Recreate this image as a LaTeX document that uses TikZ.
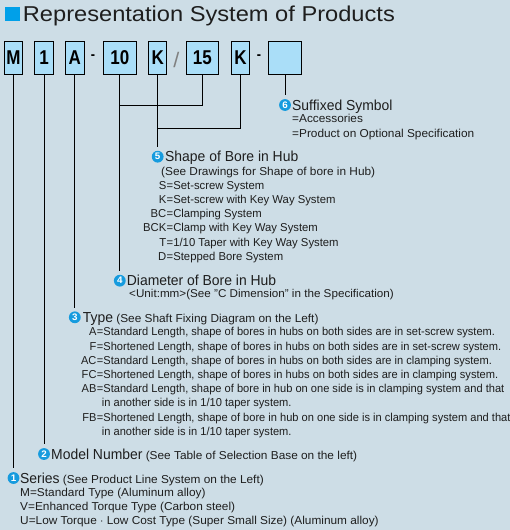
\documentclass[tikz,border=0pt]{standalone}
\usepackage{fontspec}
\setmainfont{Liberation Sans}[FakeStretch=1.03]
\newfontfamily\smfont{Liberation Sans}[FakeStretch=0.985]
\newfontfamily\tyfont{Liberation Sans}[FakeStretch=0.966]
\newfontfamily\hdfont{Liberation Sans}[FakeStretch=0.96]
\newfontfamily\titlefont{Liberation Sans}[FakeStretch=1.1]
\newfontfamily\boxfont{Liberation Sans}[FakeStretch=0.85]
\definecolor{bg}{RGB}{205,221,230}
\definecolor{boxblue}{RGB}{170,222,248}
\definecolor{bulblue}{RGB}{22,155,222}
\definecolor{sqblue}{RGB}{0,160,233}
\definecolor{txt}{RGB}{30,30,30}
\newcommand{\bodyfs}{\fontsize{11.5}{14.2}\selectfont}
\newcommand{\smfs}{\smfont\fontsize{11.47}{14.2}\selectfont}
\newcommand{\tyfs}{\tyfont\fontsize{11.47}{14.2}\selectfont}
\newcommand{\hdfs}{\hdfont\fontsize{14.5}{16}\selectfont}
\begin{document}
\begin{tikzpicture}[x=1pt,y=-1pt,
  codebox/.style={draw=black, line width=0.9pt, fill=boxblue, minimum height=32.3pt, inner sep=0pt,
    font=\boxfont\bfseries\fontsize{20}{20}\selectfont, text=black},
  sep/.style={inner sep=0pt, font=\boxfont\bfseries\fontsize{15}{15}\selectfont, text=black},
  bul/.style={circle, fill=bulblue, inner sep=0pt, minimum size=11.8pt, text=white,
    font=\bfseries\fontsize{9.5}{9.5}\selectfont},
  conn/.style={line width=0.9pt, black},
  connb/.style={conn, shorten >=3.5pt},
  hd/.style={anchor=base west, inner sep=0pt, text=txt, font=\bodyfs},
  lst/.style={anchor=base west, inner sep=0pt, text=txt, font=\bodyfs},
  slst/.style={anchor=base west, inner sep=0pt, text=txt, font=\smfs},
  slstr/.style={anchor=base east, inner sep=0pt, text=txt, font=\smfs},
  tlst/.style={anchor=base west, inner sep=0pt, text=txt, font=\tyfs},
  tlstr/.style={anchor=base east, inner sep=0pt, text=txt, font=\tyfs}
]
\fill[bg] (0,0) rectangle (510,530);
\useasboundingbox (0,0) rectangle (510,530);

% title
\fill[sqblue] (5,7.3) rectangle (20,21);
\node[anchor=base west, inner sep=0pt, text=txt, font=\titlefont\fontsize{21.5}{22}\selectfont] (title) at (22.7,21) {Representation System of Products};

% code boxes
\node[codebox, minimum width=18.4pt] (bM) at (13.5,57.85) {M};
\node[codebox, minimum width=19.4pt] (b1) at (44,57.85) {1};
\node[codebox, minimum width=19pt] (bA) at (74.8,57.85) {A};
\node[sep, anchor=base] (d1) at (93,59) {-};
\node[codebox, minimum width=33pt] (b10) at (119.8,57.85) {10};
\node[codebox, minimum width=18pt] (bK1) at (157.7,57.85) {K};
\node[inner sep=0pt, text=gray, font=\fontsize{21}{21}\selectfont] (sl) at (176.4,60.3) {/};
\node[codebox, minimum width=32.7pt] (b15) at (202.35,57.85) {15};
\node[codebox, minimum width=18.4pt] (bK2) at (240.5,57.85) {K};
\node[sep, anchor=base] (d2) at (259,59) {-};
\node[codebox, minimum width=33.4pt] (bE) at (285,57.85) {};

% bullets
\node[bul] (c6) at (285,105) {6};
\node[bul] (c5) at (157.7,156.7) {5};
\node[bul] (c4) at (119.8,280.7) {4};
\node[bul] (c3) at (74.8,317.3) {3};
\node[bul] (c2) at (44,454) {2};
\node[bul] (c1) at (13.5,478) {1};

% connectors
\coordinate (j4) at (119.8,105);
\coordinate (j5) at (157.7,128.3);
\draw[connb] (bE.south) -- (c6);
\draw[conn] (b15.south) |- (j4);
\draw[connb] (b10.south) -- (c4);
\draw[conn] (bK2.south) |- (j5);
\draw[connb] (bK1.south) -- (c5);
\draw[connb] (bA.south) -- (c3);
\draw[connb] (b1.south) -- (c2);
\draw[connb] (bM.south) -- (c1);

% 6
\node[hd] (h6) at (292,110) {\hdfs Suffixed Symbol};
\node[lst] (l6) at (292,122.8) {\begin{tabular}[t]{@{}l@{}}=Accessories\\=Product on Optional Specification\end{tabular}};

% 5
\node[hd] (h5) at (165,161.7) {\hdfs Shape of Bore in Hub};
\node[lst] (n5) at (161,175.2) {(See Drawings for Shape of bore in Hub)};
\node[slstr] (k5) at (166.5,189.2) {\begin{tabular}[t]{@{}r@{}}S\\K\\BC\\BCK\\T\\D\end{tabular}};
\node[slst] (v5) at (166.5,189.2) {\begin{tabular}[t]{@{}l@{}}=Set-screw System\\=Set-screw with Key Way System\\=Clamping System\\=Clamp with Key Way System\\=1/10 Taper with Key Way System\\=Stepped Bore System\end{tabular}};

% 4
\node[hd] (h4) at (126.7,285.7) {\hdfs Diameter of Bore in Hub};
\node[anchor=base west, inner sep=0pt, text=txt, font=\fontsize{11.33}{14.2}\selectfont] (l4) at (129,297.8) {<Unit:mm>(See "C Dimension" in the Specification)};

% 3
\node[hd] (h3) at (82.7,322.3) {{\hdfs Type} (See Shaft Fixing Diagram on the Left)};
\node[tlstr] (k3) at (96.7,335.8) {\begin{tabular}[t]{@{}r@{}}A\\F\\AC\\FC\\AB\\ \\FB\\ \end{tabular}};
\node[tlst] (v3) at (96.7,335.8) {\begin{tabular}[t]{@{}l@{}}=Standard Length, shape of bores in hubs on both sides are in set-screw system.\\
=Shortened Length, shape of bores in hubs on both sides are in set-screw system.\\
=Standard Length, shape of bores in hubs on both sides are in clamping system.\\
=Shortened Length, shape of bores in hubs on both sides are in clamping system.\\
=Standard Length, shape of bore in hub on one side is in clamping system and that\\
\hspace*{5pt}in another side is in 1/10 taper system.\\
=Shortened Length, shape of bore in hub on one side is in clamping system and that\\
\hspace*{5pt}in another side is in 1/10 taper system.\end{tabular}};

% 2
\node[hd] (h2) at (51,459) {{\hdfs Model Number} (See Table of Selection Base on the left)};

% 1
\node[hd] (h1) at (20,483.3) {{\hdfs Series} (See Product Line System on the Left)};
\node[lst] (l1) at (20,496.2) {\begin{tabular}[t]{@{}l@{}}M=Standard Type (Aluminum alloy)\\V=Enhanced Torque Type (Carbon steel)\\U=Low Torque $\cdot$ Low Cost Type (Super Small Size) (Aluminum alloy)\end{tabular}};
\end{tikzpicture}
\end{document}
